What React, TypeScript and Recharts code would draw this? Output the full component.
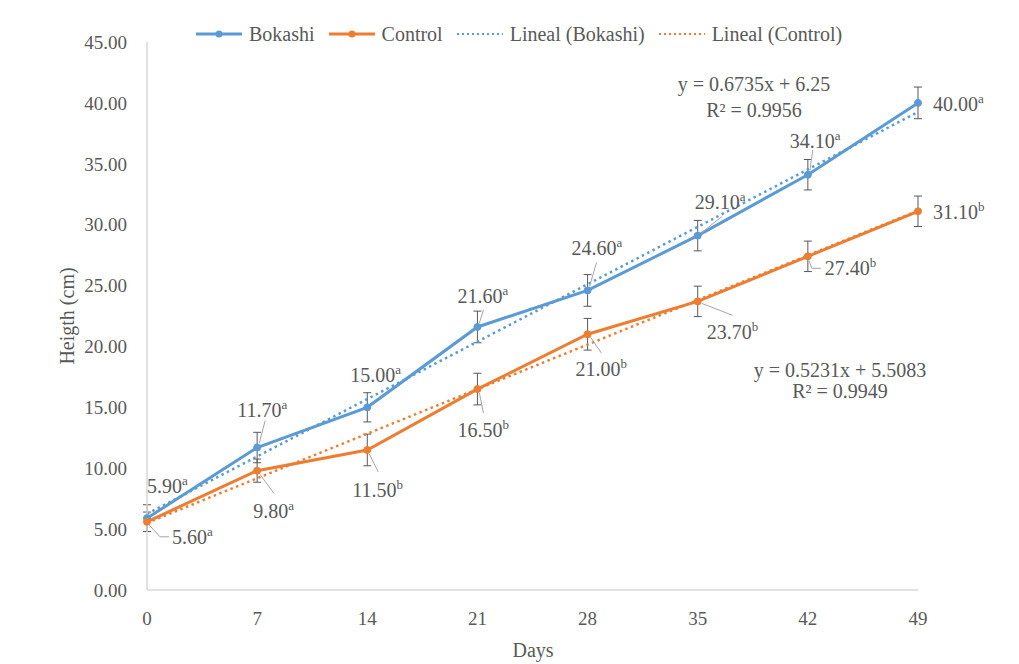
import React from "react";
import { LineChart, Line, XAxis, YAxis, ErrorBar, LabelList } from "recharts";

const days = [0, 7, 14, 21, 28, 35, 42, 49];
const bokashi = [5.9, 11.7, 15.0, 21.6, 24.6, 29.1, 34.1, 40.0];
const control = [5.6, 9.8, 11.5, 16.5, 21.0, 23.7, 27.4, 31.1];
const bokashiErr = [1.1, 1.25, 1.2, 1.3, 1.3, 1.25, 1.25, 1.3];
const controlErr = [0.8, 0.95, 1.3, 1.3, 1.3, 1.25, 1.25, 1.25];
const bokashiLetters = ["a", "a", "a", "a", "a", "a", "a", "a"];
const controlLetters = ["a", "a", "b", "b", "b", "b", "b", "b"];
const yTicks = [0, 5, 10, 15, 20, 25, 30, 35, 40, 45];
const eqBokashi = ["y = 0.6735x + 6.25", "R² = 0.9956"];
const eqControl = ["y = 0.5231x + 5.5083", "R² = 0.9949"];

const BLUE = "#5B9BD5";
const ORANGE = "#ED7D31";
const TEXT = "#595959";
const FONT = "'Liberation Serif', serif";

// least squares line, same as the excel "Lineal" trendline
function fit(xs: number[], ys: number[]) {
  const n = xs.length;
  const mx = xs.reduce((a, b) => a + b, 0) / n;
  const my = ys.reduce((a, b) => a + b, 0) / n;
  let sxy = 0;
  let sxx = 0;
  xs.forEach((x, i) => {
    sxy += (x - mx) * (ys[i] - my);
    sxx += (x - mx) * (x - mx);
  });
  const m = sxy / sxx;
  return (x: number) => m * x + (my - m * mx);
}

const trendB = fit(days, bokashi);
const trendC = fit(days, control);

const data = days.map((d, i) => ({
  day: d,
  bokashi: bokashi[i],
  control: control[i],
  bErr: bokashiErr[i],
  cErr: controlErr[i],
  tB: trendB(d),
  tC: trendC(d),
}));

// label placement: [dx, dy] of text left / middle, and leader polyline relative to the point
const bOffsets = [[0, -32], [-20, -38], [-17, -32], [-20, -31], [-16, -42], [-3, -34], [-18, -34], [15, 1]];
const bLeaders: (number[][] | null)[] = [
  null, [[2, -4], [8, -27]], null, [[2, -4], [6, -17]], [[2, -4], [9, -28]], [[4, -3], [24, -19]], [[2, -4], [5, -25]], null,
];
const cOffsets = [[25, 15], [-4, 40], [-15, 40], [-20, 41], [-12, 35], [9, 31], [17, 12], [15, 1]];
const cLeaders: (number[][] | null)[] = [
  [[2, 3], [13, 15], [22, 15]], [[3, 4], [17, 23]], [[2, 4], [11, 22]], [[2, 4], [6, 24]], [[3, 3], [14, 19]], [[4, 2], [35, 14]], [[1, 4], [4, 12], [13, 12]], null,
];

const makeLabel = (values: number[], letters: string[], offsets: number[][], leaders: (number[][] | null)[]) =>
  (props: any) => {
    const { x, y, index } = props;
    const [dx, dy] = offsets[index];
    const pts = leaders[index];
    return (
      <g>
        {pts && (
          <polyline
            points={pts.map(([a, b]) => `${x + a},${y + b}`).join(" ")}
            fill="none"
            stroke="#A6A6A6"
            strokeWidth={1}
          />
        )}
        <text x={x + dx} y={y + dy + 7} fontSize={20} fill={TEXT} fontFamily={FONT}>
          {values[index].toFixed(2)}
          <tspan fontSize={13} dy={-8}>{letters[index]}</tspan>
        </text>
      </g>
    );
  };

const abs = (left: number, top: number, extra: React.CSSProperties = {}): React.CSSProperties => ({
  position: "absolute",
  left,
  top,
  transform: "translate(-50%, -50%)",
  whiteSpace: "nowrap",
  fontFamily: FONT,
  fontSize: 20,
  lineHeight: 1,
  color: TEXT,
  ...extra,
});

function LegendItem({ color, dotted, label }: { color: string; dotted?: boolean; label: string }) {
  return (
    <div style={{ display: "flex", alignItems: "center", marginRight: 12 }}>
      <svg width={50} height={12} style={{ marginRight: 5 }}>
        <line
          x1={2}
          x2={48}
          y1={6}
          y2={6}
          stroke={color}
          strokeWidth={dotted ? 2 : 3}
          strokeDasharray={dotted ? "2 3" : undefined}
        />
        {!dotted && <circle cx={25} cy={6} r={3.5} fill={color} />}
      </svg>
      <span>{label}</span>
    </div>
  );
}

export default function App() {
  return (
    <div style={{ position: "absolute", left: 0, top: 0, width: 1019, height: 664, background: "#fff" }}>
      <LineChart width={1019} height={664} data={data} margin={{ top: 42, right: 101, bottom: 0, left: 67 }}>
        <XAxis
          dataKey="day"
          type="number"
          domain={[0, 49]}
          ticks={days}
          height={74}
          axisLine={{ stroke: "#D9D9D9", strokeWidth: 1.5 }}
          tickLine={false}
          tickMargin={16}
          tick={{ fill: TEXT, fontSize: 19, fontFamily: FONT }}
        />
        <YAxis
          type="number"
          domain={[0, 45]}
          ticks={yTicks}
          width={80}
          axisLine={{ stroke: "#D9D9D9", strokeWidth: 1.5 }}
          tickLine={false}
          tickMargin={14}
          tickFormatter={(v: number) => v.toFixed(2)}
          tick={{ fill: TEXT, fontSize: 19, fontFamily: FONT }}
        />
        <Line
          dataKey="bokashi"
          stroke={BLUE}
          strokeWidth={3}
          dot={{ r: 3.5, fill: BLUE, stroke: BLUE, strokeWidth: 1 }}
          activeDot={false}
          isAnimationActive={false}
        >
          <ErrorBar dataKey="bErr" width={4} stroke="#595959" strokeWidth={1} direction="y" />
        </Line>
        <Line
          dataKey="control"
          stroke={ORANGE}
          strokeWidth={3}
          dot={{ r: 3.5, fill: ORANGE, stroke: ORANGE, strokeWidth: 1 }}
          activeDot={false}
          isAnimationActive={false}
        >
          <ErrorBar dataKey="cErr" width={4} stroke="#595959" strokeWidth={1} direction="y" />
        </Line>
        <Line
          dataKey="tB"
          stroke={BLUE}
          strokeWidth={2.5}
          strokeDasharray="2.5 3.5"
          dot={false}
          activeDot={false}
          isAnimationActive={false}
        />
        <Line
          dataKey="tC"
          stroke={ORANGE}
          strokeWidth={2.5}
          strokeDasharray="2.5 3.5"
          dot={false}
          activeDot={false}
          isAnimationActive={false}
        />
        <Line dataKey="bokashi" stroke="none" dot={false} activeDot={false} isAnimationActive={false}>
          <LabelList dataKey="bokashi" content={makeLabel(bokashi, bokashiLetters, bOffsets, bLeaders)} />
        </Line>
        <Line dataKey="control" stroke="none" dot={false} activeDot={false} isAnimationActive={false}>
          <LabelList dataKey="control" content={makeLabel(control, controlLetters, cOffsets, cLeaders)} />
        </Line>
      </LineChart>

      <div
        style={{
          position: "absolute",
          left: 194,
          top: 24,
          display: "flex",
          alignItems: "center",
          fontFamily: FONT,
          fontSize: 20,
          color: TEXT,
          lineHeight: 1,
        }}
      >
        <LegendItem color={BLUE} label="Bokashi" />
        <LegendItem color={ORANGE} label="Control" />
        <LegendItem color={BLUE} dotted label="Lineal (Bokashi)" />
        <LegendItem color={ORANGE} dotted label="Lineal (Control)" />
      </div>

      <div style={abs(754, 84)}>{eqBokashi[0]}</div>
      <div style={abs(754, 110)}>{eqBokashi[1]}</div>
      <div style={abs(840, 370)}>{eqControl[0]}</div>
      <div style={abs(840, 391)}>{eqControl[1]}</div>

      <div style={abs(533, 650)}>Days</div>
      <div style={abs(67, 316, { transform: "translate(-50%, -50%) rotate(-90deg)" })}>Heigth (cm)</div>
    </div>
  );
}
